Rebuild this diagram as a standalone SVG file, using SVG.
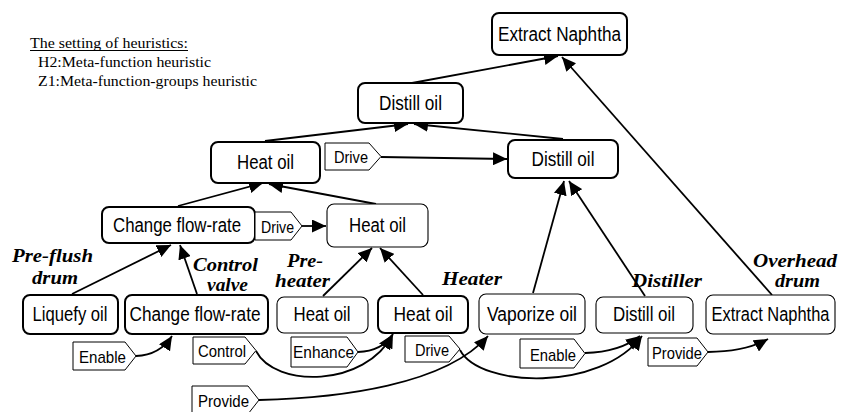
<svg xmlns="http://www.w3.org/2000/svg" width="847" height="412" viewBox="0 0 847 412">
  <style>
    .box { fill: #fff; stroke: #000; stroke-width: 1.1; }
    .box.bold { stroke-width: 2; }
    .nt { font-family: "Liberation Sans", Arial, sans-serif; font-size: 20px; fill: #000; text-anchor: middle; }
    .tag { fill: #fff; stroke: #000; stroke-width: 1; }
    .tt { font-family: "Liberation Sans", Arial, sans-serif; font-size: 17px; fill: #000; }
    .role { font-family: "Liberation Serif", "Times New Roman", serif; font-size: 18px; font-weight: bold; font-style: italic; fill: #000; }
    .note { font-family: "Liberation Serif", "Times New Roman", serif; font-size: 15.5px; fill: #000; }
    .edge { fill: none; stroke: #000; stroke-width: 1.8; marker-end: url(#head); }
  </style>
  <defs>
    <marker id="head" markerUnits="userSpaceOnUse" markerWidth="15" markerHeight="13" refX="14" refY="6.5" orient="auto">
      <path d="M0,0 L14,6.5 L0,13 Z" fill="#000"/>
    </marker>
  </defs>
  <rect width="847" height="412" fill="#fff"/>

  <!-- heuristics legend -->
  <g id="legend">
    <text class="note" x="30" y="48" textLength="158" lengthAdjust="spacingAndGlyphs">The setting of heuristics:</text>
    <line x1="30" y1="50.5" x2="188" y2="50.5" stroke="#000" stroke-width="1"/>
    <text class="note" x="38" y="67" textLength="173" lengthAdjust="spacingAndGlyphs">H2:Meta-function heuristic</text>
    <text class="note" x="38" y="86" textLength="219" lengthAdjust="spacingAndGlyphs">Z1:Meta-function-groups heuristic</text>
  </g>

  <!-- connectors -->
  <g id="connectors">
    <path class="edge" d="M412,83 L558,56"/>
    <path class="edge" d="M772,295 L562,57"/>
    <path class="edge" d="M265,141 L408,124"/>
    <path class="edge" d="M563,139 L414,124"/>
    <path class="edge" d="M381,157 L507,159"/>
    <path class="edge" d="M178,206 L263,183"/>
    <path class="edge" d="M376,204 L269,184"/>
    <path class="edge" d="M302,226 L326,226"/>
    <path class="edge" d="M72,294 L171,245"/>
    <path class="edge" d="M197,294 L180,245"/>
    <path class="edge" d="M323,296 L372,248"/>
    <path class="edge" d="M423,295 L380,248"/>
    <path class="edge" d="M533,293 L564,181"/>
    <path class="edge" d="M645,296 L569,181"/>
    <path class="edge" d="M136,356 Q160,355 172,336"/>
    <path class="edge" d="M256,351 C275,388 365,388 393,334"/>
    <path class="edge" d="M358,352 Q382,351 392,335"/>
    <path class="edge" d="M259,400 C340,398 445,385 488,336"/>
    <path class="edge" d="M460,350 C480,388 600,392 642,336"/>
    <path class="edge" d="M585,353 Q620,352 640,336"/>
    <path class="edge" d="M708,352 Q745,352 768,339"/>
  </g>

  <!-- function nodes -->
  <g id="n-extract-top"><rect class="box bold" x="492" y="13" width="135" height="42" rx="7"/><text class="nt" x="559.5" y="41" textLength="123" lengthAdjust="spacingAndGlyphs">Extract Naphtha</text></g>
  <g id="n-distill-l2"><rect class="box bold" x="358" y="83" width="105" height="40" rx="7"/><text class="nt" x="410.5" y="110" textLength="63" lengthAdjust="spacingAndGlyphs">Distill oil</text></g>
  <g id="n-heat-l3"><rect class="box bold" x="211" y="142" width="109" height="41" rx="7"/><text class="nt" x="265.5" y="169" textLength="57" lengthAdjust="spacingAndGlyphs">Heat oil</text></g>
  <g id="n-distill-l3"><rect class="box bold" x="508" y="140" width="110" height="38" rx="7"/><text class="nt" x="563" y="166" textLength="63" lengthAdjust="spacingAndGlyphs">Distill oil</text></g>
  <g id="n-change-l4"><rect class="box bold" x="102" y="207" width="153" height="36" rx="7"/><text class="nt" x="177" y="232" textLength="128" lengthAdjust="spacingAndGlyphs">Change flow-rate</text></g>
  <g id="n-heat-l4"><rect class="box" x="327" y="204" width="101" height="43" rx="7"/><text class="nt" x="377.5" y="232" textLength="57" lengthAdjust="spacingAndGlyphs">Heat oil</text></g>
  <g id="n-liquefy"><rect class="box bold" x="23" y="295" width="95" height="39" rx="7"/><text class="nt" x="70" y="321" textLength="75" lengthAdjust="spacingAndGlyphs">Liquefy oil</text></g>
  <g id="n-change"><rect class="box bold" x="125" y="295" width="143" height="39" rx="7"/><text class="nt" x="195" y="321" textLength="131" lengthAdjust="spacingAndGlyphs">Change flow-rate</text></g>
  <g id="n-heat-pre"><rect class="box" x="277" y="297" width="91" height="36" rx="7"/><text class="nt" x="322" y="321" textLength="57" lengthAdjust="spacingAndGlyphs">Heat oil</text></g>
  <g id="n-heat"><rect class="box bold" x="378" y="296" width="90" height="37" rx="7"/><text class="nt" x="423" y="321" textLength="59" lengthAdjust="spacingAndGlyphs">Heat oil</text></g>
  <g id="n-vaporize"><rect class="box" x="479" y="294" width="106" height="40" rx="7"/><text class="nt" x="532" y="321" textLength="90" lengthAdjust="spacingAndGlyphs">Vaporize oil</text></g>
  <g id="n-distill"><rect class="box" x="596" y="297" width="97" height="36" rx="7"/><text class="nt" x="644" y="321" textLength="62" lengthAdjust="spacingAndGlyphs">Distill oil</text></g>
  <g id="n-extract"><rect class="box" x="706" y="295" width="129" height="39" rx="7"/><text class="nt" x="770.5" y="321" textLength="118" lengthAdjust="spacingAndGlyphs">Extract Naphtha</text></g>

  <!-- relation tags -->
  <g id="t-drive-l3"><path class="tag" d="M325,143 H369 L381,156.5 L369,170 H325 Z"/><text class="tt" x="334" y="163" textLength="34" lengthAdjust="spacingAndGlyphs">Drive</text></g>
  <g id="t-drive-l4"><path class="tag" d="M255,212 H291 L302,226 L291,240 H255 Z"/><text class="tt" x="261" y="233" textLength="33" lengthAdjust="spacingAndGlyphs">Drive</text></g>
  <g id="t-enable-1"><path class="tag" d="M73,342 H125 L136,356 L125,370 H73 Z"/><text class="tt" x="79" y="363" textLength="47" lengthAdjust="spacingAndGlyphs">Enable</text></g>
  <g id="t-control"><path class="tag" d="M193,337 H245 L256,350.5 L245,364 H193 Z"/><text class="tt" x="198" y="357" textLength="48" lengthAdjust="spacingAndGlyphs">Control</text></g>
  <g id="t-enhance"><path class="tag" d="M291,337 H347 L358,352 L347,367 H291 Z"/><text class="tt" x="293" y="358" textLength="61" lengthAdjust="spacingAndGlyphs">Enhance</text></g>
  <g id="t-provide-1"><path class="tag" d="M192,386 H248 L259,400 L248,414 H192 Z"/><text class="tt" x="198" y="407" textLength="51" lengthAdjust="spacingAndGlyphs">Provide</text></g>
  <g id="t-drive"><path class="tag" d="M405,336 H449 L460,349 L449,362 H405 Z"/><text class="tt" x="415" y="356" textLength="34" lengthAdjust="spacingAndGlyphs">Drive</text></g>
  <g id="t-enable-2"><path class="tag" d="M520,339 H574 L585,353.5 L574,368 H520 Z"/><text class="tt" x="530" y="361" textLength="46" lengthAdjust="spacingAndGlyphs">Enable</text></g>
  <g id="t-provide-2"><path class="tag" d="M648,338 H697 L708,352 L697,366 H648 Z"/><text class="tt" x="652" y="359" textLength="50" lengthAdjust="spacingAndGlyphs">Provide</text></g>

  <!-- equipment names -->
  <g id="equipment">
    <text class="role" x="12" y="262" textLength="81" lengthAdjust="spacingAndGlyphs">Pre-flush</text>
    <text class="role" x="32" y="284" textLength="46" lengthAdjust="spacingAndGlyphs">drum</text>
    <text class="role" x="193" y="271" textLength="65" lengthAdjust="spacingAndGlyphs">Control</text>
    <text class="role" x="207" y="291" textLength="41" lengthAdjust="spacingAndGlyphs">valve</text>
    <text class="role" x="287" y="267" textLength="36" lengthAdjust="spacingAndGlyphs">Pre-</text>
    <text class="role" x="275" y="287" textLength="55" lengthAdjust="spacingAndGlyphs">heater</text>
    <text class="role" x="442" y="285" textLength="60" lengthAdjust="spacingAndGlyphs">Heater</text>
    <text class="role" x="632" y="287" textLength="70" lengthAdjust="spacingAndGlyphs">Distiller</text>
    <text class="role" x="753" y="267" textLength="84" lengthAdjust="spacingAndGlyphs">Overhead</text>
    <text class="role" x="775" y="287" textLength="45" lengthAdjust="spacingAndGlyphs">drum</text>
  </g>
</svg>
